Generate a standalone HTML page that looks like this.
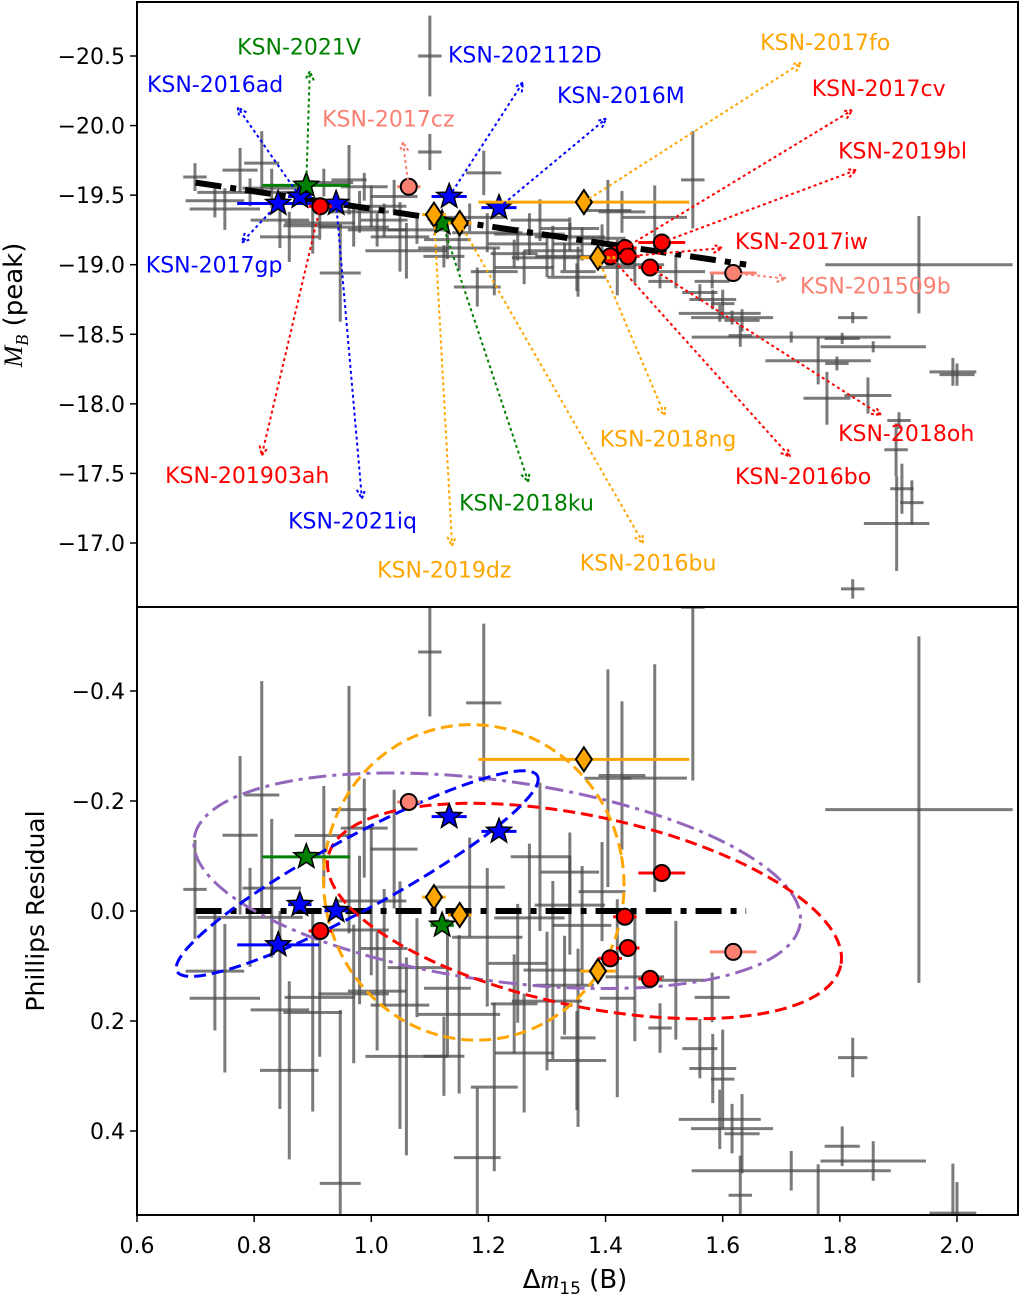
<!DOCTYPE html>
<html><head><meta charset="utf-8"><style>
html,body{margin:0;padding:0;background:#fff;width:1020px;height:1299px;overflow:hidden;}
svg{display:block;font-family:"DejaVu Sans","Liberation Sans",sans-serif;overflow:hidden;}
</style></head><body>
<svg id="chart" width="1020" height="1299" viewBox="0 0 1020 1299" xmlns="http://www.w3.org/2000/svg">
<defs>
<clipPath id="clipTop"><rect x="137" y="2" width="881" height="605"/></clipPath>
<clipPath id="clipBot"><rect x="137" y="607" width="881" height="608"/></clipPath>
</defs>
<g id="topData" clip-path="url(#clipTop)"></g>
<g id="botData" clip-path="url(#clipBot)"></g>
<g id="annot"></g>
<rect x="137" y="2" width="881" height="605" fill="none" stroke="#000" stroke-width="2"/>
<rect x="137" y="607" width="881" height="608" fill="none" stroke="#000" stroke-width="2"/>
<g id="axes"></g>
<text x="22" y="305" transform="rotate(-90 22 305)" text-anchor="middle" font-size="26"><tspan font-style="italic" font-family="Liberation Serif, serif">M</tspan><tspan font-style="italic" font-family="Liberation Serif, serif" font-size="18" dy="6">B</tspan><tspan dy="-6"> (peak)</tspan></text>
<text x="44" y="911" transform="rotate(-90 44 911)" text-anchor="middle" font-size="25">Phillips Residual</text>
<text x="575" y="1288" text-anchor="middle" font-size="26">Δ<tspan font-style="italic" font-family="Liberation Serif, serif">m</tspan><tspan font-size="17" dy="6">15</tspan><tspan dy="-6"> (B)</tspan></text>
</svg>
<script>
// ---- data ----
const grayX  = [1.549,1.935,1.822,1.804,1.717,1.857,1.763,1.795,1.778,1.848,1.993,1.901,1.896,1.906,1.923,1.897,1.822,1.561,1.583,1.600,1.595,1.616,1.633,1.630,1.582,1.493,1.404,1.428,1.484,1.394,1.353,1.330,1.420,1.339,1.100,0.699,0.776,0.813,0.793,0.733,0.844,0.919,0.962,0.988,0.947,0.912,0.970,1.010,1.049,1.078,1.192,1.198,1.181,1.124,1.244,1.288,1.339,1.261,1.351,1.022,1.168,1.039,1.100,0.75,0.86,1.06,1.25,1.30,1.15,0.98,0.90,1.45,1.52,1.27,1.21,0.83,1.00,1.31,1.36,1.13,2.00];
const grayM  = [-19.61,-19.00,-18.62,-18.47,-18.48,-18.41,-18.31,-18.29,-18.04,-18.06,-18.23,-17.88,-17.67,-17.39,-17.29,-17.14,-16.67,-18.80,-18.75,-18.72,-18.65,-18.62,-18.60,-18.49,-18.88,-18.88,-19.39,-19.38,-19.34,-19.19,-18.95,-19.06,-18.98,-19.26,-19.81,-19.63,-19.68,-19.73,-19.52,-19.46,-19.32,-19.59,-19.61,-19.56,-18.94,-19.30,-19.27,-19.25,-19.20,-19.25,-19.66,-19.23,-18.84,-19.06,-19.08,-19.32,-19.20,-18.98,-18.91,-19.32,-19.34,-19.49,-20.50,-19.40,-19.20,-19.10,-19.15,-19.05,-19.12,-19.38,-19.28,-19.00,-18.95,-19.22,-18.95,-19.55,-19.42,-19.10,-19.15,-19.18,-18.21];
const grayXe = [0.02,0.16,0.025,0.03,0.17,0.09,0.09,0.02,0.04,0.04,0.04,0.02,0.02,0.02,0.02,0.056,0.02,0.03,0.04,0.02,0.07,0.07,0.03,0.02,0.03,0.02,0.04,0.04,0.055,0.04,0.03,0.05,0.03,0.05,0.02,0.02,0.03,0.03,0.09,0.05,0.05,0.05,0.03,0.04,0.035,0.06,0.06,0.05,0.05,0.05,0.03,0.06,0.04,0.035,0.04,0.05,0.06,0.05,0.05,0.04,0.06,0.04,0.02,0.06,0.05,0.07,0.05,0.06,0.07,0.05,0.05,0.05,0.05,0.06,0.04,0.05,0.06,0.05,0.05,0.04,0.03];
const grayMe = [0.35,0.35,0.04,0.04,0.04,0.04,0.17,0.05,0.19,0.13,0.10,0.06,0.19,0.18,0.16,0.34,0.07,0.06,0.07,0.1,0.06,0.05,0.08,0.08,0.05,0.05,0.22,0.15,0.23,0.1,0.18,0.1,0.2,0.08,0.13,0.1,0.16,0.23,0.1,0.12,0.2,0.1,0.25,0.1,0.35,0.12,0.14,0.12,0.25,0.1,0.16,0.14,0.14,0.08,0.1,0.15,0.1,0.12,0.1,0.12,0.1,0.12,0.29,0.15,0.18,0.2,0.12,0.14,0.16,0.15,0.2,0.13,0.12,0.15,0.17,0.14,0.15,0.18,0.12,0.14,0.08];

const sn_names = ["KSN-2017gp","KSN-2016ad","KSN-2021iq","KSN-202112D","KSN-2016M","KSN-2021V","KSN-2018ku","KSN-201903ah","KSN-2017cv","KSN-2017iw","KSN-2019bl","KSN-2018oh","KSN-2016bo","KSN-2017cz","KSN-201509b","KSN-2019dz","KSN-2016bu","KSN-2017fo","KSN-2018ng"];
const sn_x  = [0.841,0.878,0.940,1.133,1.218,0.889,1.121,0.913,1.433,1.438,1.496,1.476,1.408,1.064,1.618,1.107,1.151,1.363,1.387];
const sn_M  = [-19.44,-19.49,-19.44,-19.49,-19.41,-19.57,-19.30,-19.42,-19.12,-19.06,-19.16,-18.98,-19.06,-19.56,-18.94,-19.36,-19.30,-19.45,-19.05];
const sn_xe = [0.07,0.02,0.02,0.03,0.03,0.075,0.02,0.02,0.02,0.02,0.04,0.02,0.02,0.02,0.04,0.02,0.02,0.18,0.03];
const sn_type = ["star-b","star-b","star-b","star-b","star-b","star-g","star-g","red","red","red","red","red","red","salmon","salmon","dia","dia","dia","dia"];
const lab_x = [0.615,0.617,0.858,1.131,1.317,0.771,1.150,0.648,1.752,1.621,1.797,1.797,1.621,0.916,1.732,1.010,1.356,1.664,1.390];
const lab_M = [-19.00,-20.30,-17.16,-20.51,-20.22,-20.57,-17.29,-17.49,-20.27,-19.17,-19.82,-17.79,-17.48,-20.05,-18.85,-16.81,-16.86,-20.60,-17.75];
const head_x = [0.779,0.772,0.984,1.259,1.401,0.895,1.268,0.813,1.821,1.599,1.828,1.870,1.715,1.054,1.708,1.138,1.464,1.734,1.501];
const head_M = [-19.16,-20.13,-17.32,-20.31,-20.05,-20.39,-17.44,-17.63,-20.11,-19.12,-19.68,-17.92,-17.62,-19.88,-18.90,-16.98,-17.00,-20.45,-17.92];

const fitX = [0.70,1.64];
const xTicks = [0.6,0.8,1.0,1.2,1.4,1.6,1.8,2.0];
const topTicks = [-20.5,-20.0,-19.5,-19.0,-18.5,-18.0,-17.5,-17.0];
const botTicks = [-0.4,-0.2,0.0,0.2,0.4];

const ell_cx = [1.215,1.364,1.175,0.976];
const ell_cy = [-0.055,0.0,-0.052,-0.068];
const ell_names = ["ellipse-all","ellipse-red","ellipse-orange","ellipse-blue"];

// ---- scales ----
const clamp = (v,a,b) => Math.max(a, Math.min(b, v));
const X = x => clamp(137 + (x - 0.6) * 585.7, 130, 1020);
const YT = m => clamp(56 + (m + 20.5) * 139.14, 2, 607);
const YB = r => clamp(911 + r * 550, 607, 1215);
const fit = x => -19.59 + 0.627 * (x - 0.7);
const NS = "http://www.w3.org/2000/svg";
function mk(tag, attrs, parent){const e=document.createElementNS(NS,tag);for(const k in attrs)e.setAttribute(k,attrs[k]);parent.appendChild(e);return e;}
const topG = document.getElementById('topData');
const botG = document.getElementById('botData');
const annG = document.getElementById('annot');
const axesG = document.getElementById('axes');
const GRAY = "rgba(70,70,70,0.72)";

for (let i=0;i<grayX.length;i++){
  const gT = mk('g',{},topG);
  
  
  const x=X(grayX[i]), y=YT(grayM[i]);
  mk('line',{x1:X(grayX[i]-grayXe[i]),x2:X(grayX[i]+grayXe[i]),y1:y,y2:y,stroke:GRAY,'stroke-width':3},gT);
  mk('line',{x1:x,x2:x,y1:YT(grayM[i]-grayMe[i]),y2:YT(grayM[i]+grayMe[i]),stroke:GRAY,'stroke-width':3},gT);
  const r = grayM[i]-fit(grayX[i]);
  if (Math.abs(r) > 0.56 + grayMe[i]) continue;
  const gB = mk('g',{},botG);
  
  
  const yb=YB(r);
  if (Math.abs(r) <= 0.553) mk('line',{x1:X(grayX[i]-grayXe[i]),x2:X(grayX[i]+grayXe[i]),y1:yb,y2:yb,stroke:GRAY,'stroke-width':3},gB);
  mk('line',{x1:x,x2:x,y1:YB(r-grayMe[i]*0.9),y2:YB(r+grayMe[i]*0.9),stroke:GRAY,'stroke-width':3},gB);
}

const fl = mk('line',{x1:X(fitX[0]),y1:YT(fit(fitX[0])),x2:X(fitX[1]),y2:YT(fit(fitX[1])),stroke:'#000','stroke-width':6,'stroke-dasharray':'26 9 6 9'},topG);


const fl2 = mk('line',{x1:X(fitX[0]),y1:YB(0),x2:X(fitX[1]),y2:YB(0),stroke:'#000','stroke-width':6,'stroke-dasharray':'26 9 6 9'},botG);



const ellStyle = [
 {rx:306,ry:100,rot:8,stroke:'#9467bd',dash:'18 6 4 6'},
 {rx:262,ry:95,rot:12,stroke:'#ff0000',dash:'12 6'},
 {rx:150,ry:158,rot:-10,stroke:'#ffa500',dash:'12 6'},
 {rx:205,ry:36,rot:-28.5,stroke:'#0000ff',dash:'12 6'}];
for (let i=0;i<ell_cx.length;i++){
  const s=ellStyle[i], cx=X(ell_cx[i]), cy=YB(ell_cy[i]);
  const e = mk('ellipse',{cx:cx,cy:cy,rx:s.rx,ry:s.ry,transform:`rotate(${s.rot} ${cx} ${cy})`,fill:'none',stroke:s.stroke,'stroke-width':3,'stroke-dasharray':s.dash},botG);
  
  
}

function starPath(cx,cy,R){const r=R*0.42;let d='';for(let k=0;k<10;k++){const a=-Math.PI/2+k*Math.PI/5;const rr=k%2?r:R;d+=(k?'L':'M')+(cx+rr*Math.cos(a)).toFixed(1)+','+(cy+rr*Math.sin(a)).toFixed(1);}return d+'Z';}
const typeColor = {"star-b":"#0000ff","star-g":"#008000","red":"#ff0000","salmon":"#fa8072","dia":"#ffa500"};
function marker(parent,x,y,t){
  const c=typeColor[t];
  if(t.startsWith('star')) return mk('path',{d:starPath(x,y,13),fill:c,stroke:'#000','stroke-width':1.5},parent);
  if(t==='dia') return mk('path',{d:`M${x},${y-12}L${x+8},${y}L${x},${y+12}L${x-8},${y}Z`,fill:c,stroke:'#000','stroke-width':2},parent);
  return mk('circle',{cx:x,cy:y,r:8,fill:c,stroke:'#000','stroke-width':2},parent);
}
for (let i=0;i<sn_x.length;i++){
  const c=typeColor[sn_type[i]];
  const r=sn_M[i]-fit(sn_x[i]);
  [[topG,YT(sn_M[i])],[botG,YB(r)]].forEach(([p,y])=>{
    const g=mk('g',{},p);
    
    
    mk('line',{x1:X(sn_x[i]-sn_xe[i]),x2:X(sn_x[i]+sn_xe[i]),y1:y,y2:y,stroke:c,'stroke-width':3},g);
    marker(g,X(sn_x[i]),y,sn_type[i]);
  });
}

for (let i=0;i<sn_names.length;i++){
  const c=typeColor[sn_type[i]];
  const x1=X(sn_x[i]),y1=YT(sn_M[i]),x2=X(head_x[i]),y2=YT(head_M[i]);
  const g=mk('g',{},annG);
  
  
  mk('line',{x1:x1,y1:y1,x2:x2,y2:y2,stroke:c,'stroke-width':2,'stroke-dasharray':'3 3'},g);
  const a=Math.atan2(y2-y1,x2-x1),L=10;
  mk('path',{d:`M${x2-L*Math.cos(a-0.45)},${y2-L*Math.sin(a-0.45)}L${x2},${y2}L${x2-L*Math.cos(a+0.45)},${y2-L*Math.sin(a+0.45)}`,fill:'none',stroke:c,'stroke-width':2,'stroke-dasharray':'3 2'},g);
  const t=mk('text',{x:X(lab_x[i]),y:YT(lab_M[i])+8,fill:c,'font-size':22},g);
  t.textContent=sn_names[i];
}

xTicks.forEach(v=>{
  const x=X(v);
  const l=mk('line',{x1:x,x2:x,y1:1215,y2:1222,stroke:'#000','stroke-width':1.5},axesG);
  
  
  const t=mk('text',{x:x,y:1253,'text-anchor':'middle','font-size':22},axesG);
  
  
  t.textContent=v.toFixed(1);
});
topTicks.forEach(v=>{
  const y=YT(v);
  mk('line',{x1:130,x2:137,y1:y,y2:y,stroke:'#000','stroke-width':1.5},axesG);
  const t=mk('text',{x:125,y:y+8,'text-anchor':'end','font-size':22},axesG);
  
  
  t.textContent='\u2212'+Math.abs(v).toFixed(1);
});
botTicks.forEach(v=>{
  const y=YB(v);
  mk('line',{x1:130,x2:137,y1:y,y2:y,stroke:'#000','stroke-width':1.5},axesG);
  const t=mk('text',{x:125,y:y+8,'text-anchor':'end','font-size':22},axesG);
  
  
  t.textContent=(v<0?'\u2212':'')+Math.abs(v).toFixed(1);
});
</script>
</body></html>
